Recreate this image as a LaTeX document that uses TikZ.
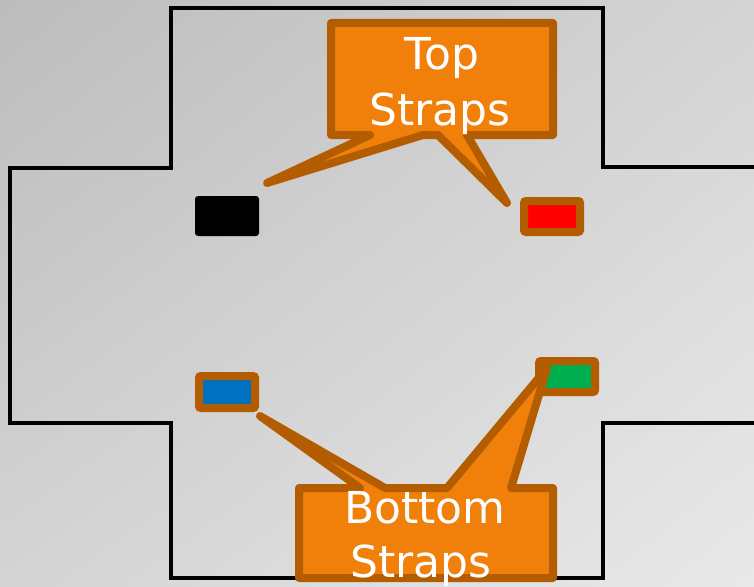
\documentclass[tikz,border=0pt]{standalone}
\usepackage{fontspec}
\setmainfont{DejaVu Sans}
\usetikzlibrary{shadings}
\definecolor{bgA}{RGB}{188,188,188}
\definecolor{bgB}{RGB}{212,212,212}
\definecolor{bgC}{RGB}{233,233,233}
\definecolor{calloutfill}{RGB}{240,128,10}
\definecolor{calloutedge}{RGB}{179,93,0}
\definecolor{strapred}{RGB}{255,0,0}
\definecolor{strapblue}{RGB}{0,112,192}
\definecolor{strapgreen}{RGB}{0,176,80}
\tikzset{
  outline/.style={draw=black, line width=3.5pt, line join=miter},
  strapbox/.style={draw=calloutedge, line width=8pt, rounded corners=2pt},
  callout/.style={fill=calloutfill, draw=calloutedge, line width=8pt, line join=round, line cap=round},
  lbl/.style={text=white, inner sep=0pt, anchor=base, font=\fontsize{44}{51}\selectfont}
}
\begin{document}
\begin{tikzpicture}[x=1pt,y=-1pt]
\useasboundingbox (0,0) rectangle (754,586);
\shade[upper left=bgA, upper right=bgB, lower left=bgB, lower right=bgC] (0,0) rectangle (754,586);
% cross outline
\draw[outline] (754,167) -- (603,167) -- (603,8) -- (171,8) -- (171,168) -- (10,168) -- (10,423) -- (171,423) -- (171,578) -- (603,578) -- (603,423) -- (754,423);
% straps
\fill[black, rounded corners=3pt] (195,196) rectangle (259,236);
\draw[strapbox, fill=strapred] (524,201) rectangle (580,232);
\draw[strapbox, fill=strapblue] (199,376) rectangle (255,408);
\draw[strapbox, fill=strapgreen] (539,361) rectangle (595,392);
% top callout
\draw[callout] (331,23) -- (553,23) -- (553,135) -- (467,135) -- (507,203) -- (438,135) -- (423,135) -- (267,183) -- (370,135) -- (331,135) -- cycle;
% bottom callout
\draw[callout] (299,578) -- (299,488) -- (360,488) -- (260,416) -- (385,488) -- (447,488) -- (547,368) -- (511,488) -- (553,488) -- (553,578) -- cycle;
% labels
\node[lbl] (topA) at (442,70) {Top};
\node[lbl] (topB) at (440,125) {Straps};
\node[lbl] (botA) at (425,523) {Bottom};
\node[lbl] (botB) at (421,577) {Straps};
\end{tikzpicture}
\end{document}
